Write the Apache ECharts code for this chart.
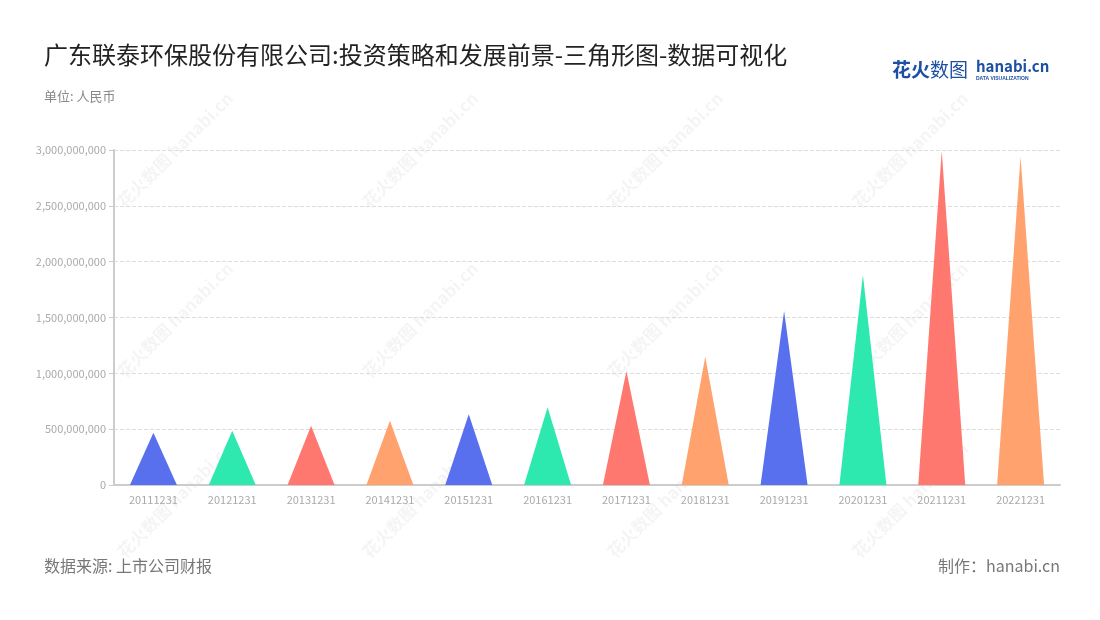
<!DOCTYPE html>
<html>
<head>
<meta charset="utf-8">
<script src="https://cdn.jsdelivr.net/npm/echarts@6/dist/echarts.min.js"></script>
<style>html,body{margin:0;padding:0;background:#fff}#c{width:1100px;height:620px}</style>
</head>
<body>
<div id="c"></div>
<script>
var categories = ['20111231','20121231','20131231','20141231','20151231','20161231','20171231','20181231','20191231','20201231','20211231','20221231'];
var values = [468000000, 486000000, 531000000, 576000000, 633000000, 696000000, 1021000000, 1149000000, 1558000000, 1881000000, 2991000000, 2940000000];
var palette = ['#5870ee', '#2de8af', '#ff7870', '#ffa26e'];
var titleText = '广东联泰环保股份有限公司:投资策略和发展前景-三角形图-数据可视化';
var unitText = '单位: 人民币';
var sourceText = '数据来源: 上市公司财报';
var makerText = '制作：hanabi.cn';

var font = '"Noto Sans CJK SC", "Noto Sans", sans-serif';
var chart = echarts.init(document.getElementById('c'));

var wm = [];
var wmX = [175, 420, 665, 910];
var wmY = [150, 320, 500];
wmX.forEach(function (x, i) {
  wmY.forEach(function (y, j) {
    wm.push({
      type: 'text', x: x, y: y, rotation: Math.PI / 4, silent: true, z: 0,
      style: { text: '花火数图 hanabi.cn', fill: 'rgba(0,0,0,0.045)', font: 'bold 17px ' + font, align: 'center', verticalAlign: 'middle' }
    });
  });
});

chart.setOption({
  backgroundColor: '#fff',
  animation: false,
  title: [
    { text: titleText, left: 44, top: 43, padding: 0, textStyle: { fontFamily: font, fontSize: 24, fontWeight: 'normal', color: '#222' } },
    { text: unitText, left: 44, top: 90, padding: 0, textStyle: { fontFamily: font, fontSize: 13, fontWeight: 'normal', color: '#888' } },
    { text: sourceText, left: 44, top: 558, padding: 0, textStyle: { fontFamily: font, fontSize: 16, fontWeight: 'normal', color: '#777' } },
    { text: makerText, right: 40, top: 558, padding: 0, textStyle: { fontFamily: font, fontSize: 16, fontWeight: 'normal', color: '#777' } }
  ],
  graphic: wm.concat([
    { type: 'text', left: 892, top: 60, style: { text: '花火', fill: '#1d4fa3', font: 'bold 19px ' + font } },
    { type: 'text', left: 930, top: 60, style: { text: '数图', fill: '#1d4fa3', font: '19px ' + font } },
    { type: 'text', left: 976, top: 59, style: { text: 'hanabi.cn', fill: '#1d4fa3', font: 'bold 15px ' + font } },
    { type: 'text', left: 976, top: 76, style: { text: 'DATA VISUALIZATION', fill: '#1d4fa3', font: 'bold 5px sans-serif' } }
  ]),
  grid: { left: 114, right: 40, top: 150, bottom: 135 },
  xAxis: {
    type: 'category',
    data: categories,
    axisLine: { lineStyle: { color: '#ccc', width: 2 } },
    axisTick: { alignWithLabel: true, lineStyle: { color: '#ccc' } },
    axisLabel: { color: '#aaa', fontSize: 11, fontFamily: font, margin: 9 }
  },
  yAxis: {
    type: 'value',
    min: 0, max: 3000000000, interval: 500000000,
    axisLine: { show: true, lineStyle: { color: '#ccc', width: 2 } },
    axisTick: { show: true, length: 5, lineStyle: { color: '#ccc' } },
    axisLabel: { color: '#aaa', fontSize: 11, fontFamily: font, margin: 8,
      formatter: function (v) { return v.toLocaleString('en-US'); } },
    splitLine: { lineStyle: { color: '#ddd', type: 'dashed' } }
  },
  series: [{
    type: 'pictorialBar',
    symbol: 'triangle',
    symbolSize: [47, '100%'],
    z: 5,
    data: values.map(function (v, i) {
      return { value: v, itemStyle: { color: palette[i % palette.length] } };
    })
  }]
});
</script>
</body>
</html>
